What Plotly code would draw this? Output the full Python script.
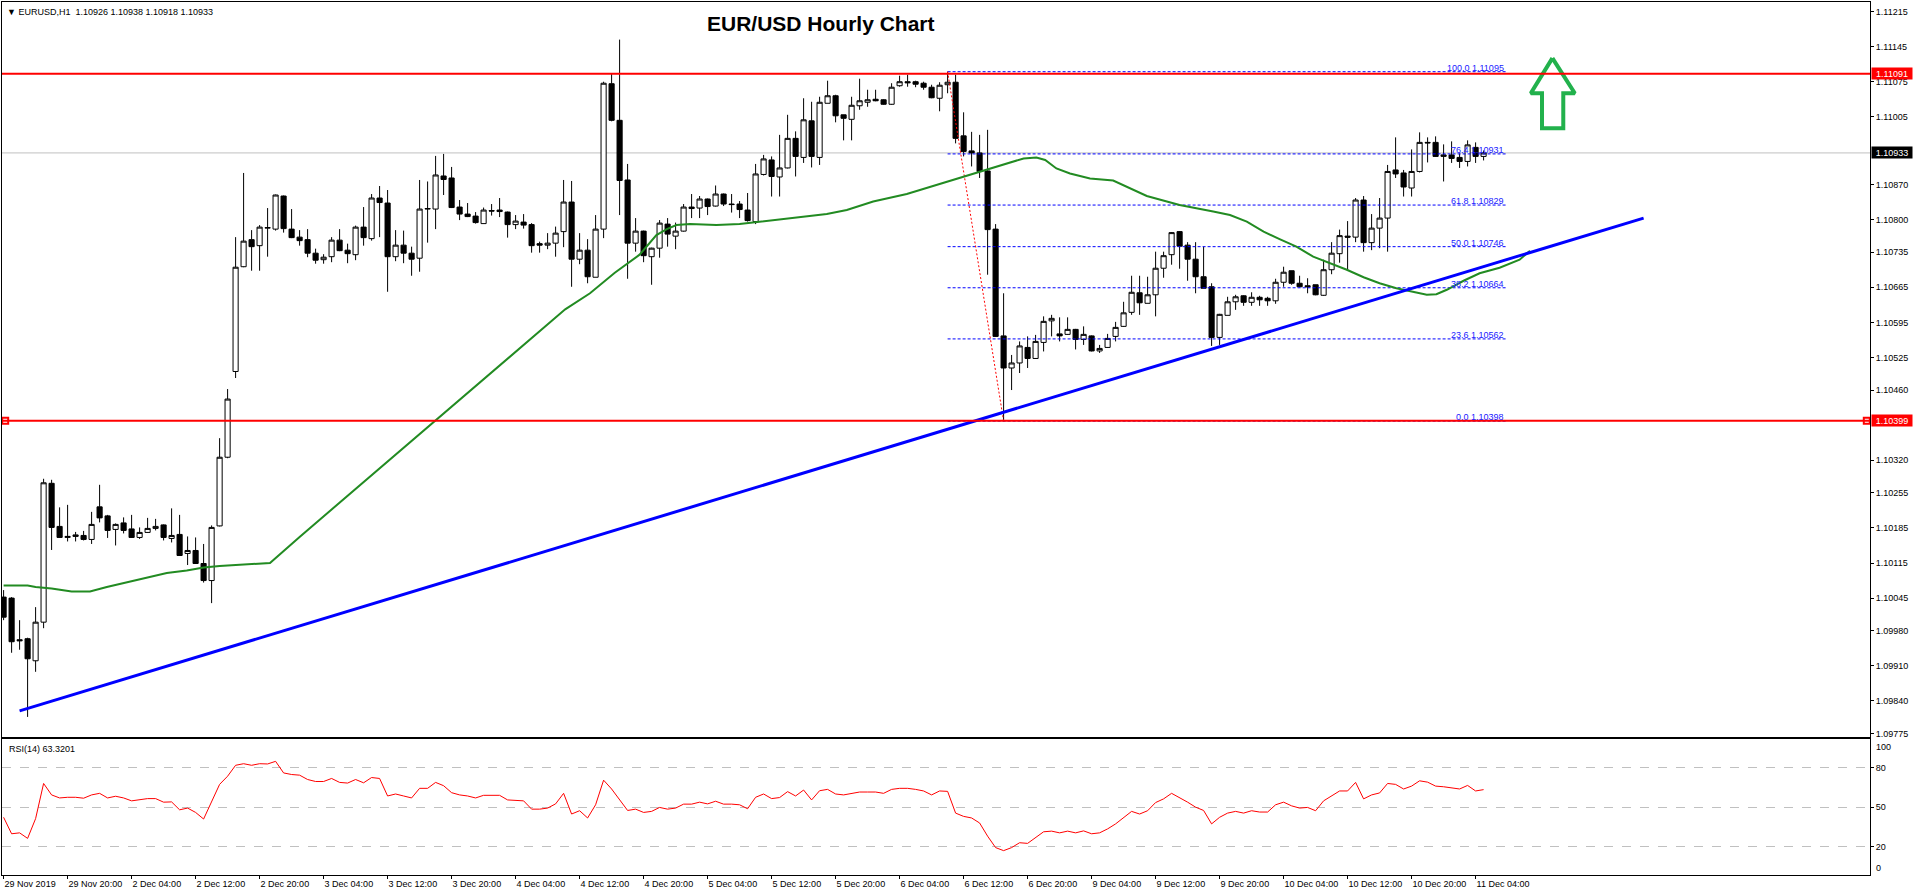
import plotly.graph_objects as go

# H1 bars, index 0 = 29 Nov 2019 12:00 (weekend hours are skipped)
opens = [
    1.10047, 1.10045, 1.09962, 1.09964, 1.09920, 1.09997, 1.10274, 1.10188, 1.10166, 1.10168,
    1.10170, 1.10162, 1.10227, 1.10209, 1.10182, 1.10195, 1.10183, 1.10166, 1.10176, 1.10184,
    1.10191, 1.10164, 1.10172, 1.10134, 1.10140, 1.10114, 1.10080, 1.10189, 1.10326, 1.10497,
    1.10706, 1.10760, 1.10748, 1.10783, 1.10781, 1.10847, 1.10781, 1.10765, 1.10760, 1.10733,
    1.10720, 1.10726, 1.10759, 1.10739, 1.10730, 1.10785, 1.10762, 1.10843, 1.10833, 1.10726,
    1.10749, 1.10733, 1.10723, 1.10821, 1.10821, 1.10887, 1.10883, 1.10825, 1.10811, 1.10807,
    1.10792, 1.10818, 1.10819, 1.10815, 1.10790, 1.10795, 1.10790, 1.10752, 1.10749, 1.10753,
    1.10776, 1.10835, 1.10721, 1.10739, 1.10685, 1.10781, 1.11071, 1.10998, 1.10879, 1.10753,
    1.10777, 1.10726, 1.10743, 1.10791, 1.10767, 1.10777, 1.10825, 1.10823, 1.10841, 1.10827,
    1.10851, 1.10831, 1.10831, 1.10819, 1.10796, 1.10890, 1.10919, 1.10885, 1.10903, 1.10962,
    1.10924, 1.10997, 1.10924, 1.11032, 1.11047, 1.11009, 1.11000, 1.11027, 1.11034, 1.11040,
    1.11039, 1.11030, 1.11067, 1.11075, 1.11075, 1.11072, 1.11064, 1.11042, 1.11069, 1.11074,
    1.10967, 1.10937, 1.10933, 1.10897, 1.10781, 1.10568, 1.10504, 1.10514, 1.10545, 1.10523,
    1.10555, 1.10598, 1.10572, 1.10571, 1.10581, 1.10561, 1.10568, 1.10538, 1.10545, 1.10567,
    1.10587, 1.10615, 1.10654, 1.10633, 1.10650, 1.10703, 1.10730, 1.10776, 1.10749, 1.10721,
    1.10686, 1.10666, 1.10565, 1.10609, 1.10636, 1.10648, 1.10635, 1.10645, 1.10643, 1.10638,
    1.10675, 1.10698, 1.10673, 1.10668, 1.10670, 1.10649, 1.10700, 1.10732, 1.10767, 1.10765,
    1.10839, 1.10754, 1.10783, 1.10803, 1.10899, 1.10893, 1.10863, 1.10896, 1.10954, 1.10954,
    1.10926, 1.10929, 1.10924, 1.10916, 1.10944, 1.10926,
]
highs = [
    1.10061, 1.10047, 1.10001, 1.09966, 1.10027, 1.10283, 1.10281, 1.10226, 1.10231, 1.10177,
    1.10179, 1.10217, 1.10271, 1.10211, 1.10194, 1.10206, 1.10211, 1.10186, 1.10205, 1.10203,
    1.10192, 1.10224, 1.10211, 1.10168, 1.10166, 1.10153, 1.10190, 1.10364, 1.10462, 1.10765,
    1.10893, 1.10779, 1.10789, 1.10823, 1.10850, 1.10848, 1.10821, 1.10779, 1.10781, 1.10742,
    1.10731, 1.10765, 1.10781, 1.10752, 1.10788, 1.10825, 1.10851, 1.10867, 1.10859, 1.10779,
    1.10778, 1.10746, 1.10879, 1.10876, 1.10927, 1.10931, 1.10905, 1.10839, 1.10833, 1.10815,
    1.10824, 1.10831, 1.10843, 1.10816, 1.10809, 1.10811, 1.10793, 1.10756, 1.10773, 1.10786,
    1.10879, 1.10877, 1.10773, 1.10761, 1.10809, 1.11075, 1.11091, 1.11159, 1.10911, 1.10803,
    1.10778, 1.10744, 1.10799, 1.10803, 1.10794, 1.10831, 1.10851, 1.10847, 1.10842, 1.10868,
    1.10852, 1.10851, 1.10837, 1.10853, 1.10911, 1.10929, 1.10926, 1.10969, 1.11009, 1.10976,
    1.11042, 1.11035, 1.11045, 1.11077, 1.11049, 1.11009, 1.11045, 1.11081, 1.11059, 1.11059,
    1.11040, 1.11072, 1.11087, 1.11089, 1.11077, 1.11075, 1.11069, 1.11074, 1.11095, 1.11089,
    1.11014, 1.10975, 1.10969, 1.10979, 1.10791, 1.10653, 1.10530, 1.10557, 1.10567, 1.10570,
    1.10607, 1.10610, 1.10605, 1.10605, 1.10582, 1.10587, 1.10569, 1.10550, 1.10572, 1.10596,
    1.10636, 1.10688, 1.10688, 1.10686, 1.10736, 1.10736, 1.10775, 1.10777, 1.10755, 1.10755,
    1.10746, 1.10673, 1.10612, 1.10646, 1.10650, 1.10649, 1.10655, 1.10648, 1.10646, 1.10682,
    1.10706, 1.10698, 1.10688, 1.10683, 1.10670, 1.10720, 1.10755, 1.10780, 1.10797, 1.10843,
    1.10847, 1.10811, 1.10843, 1.10909, 1.10964, 1.10899, 1.10940, 1.10974, 1.10964, 1.10966,
    1.10950, 1.10956, 1.10932, 1.10958, 1.10954, 1.10938,
]
lows = [
    1.10001, 1.09936, 1.09942, 1.09808, 1.09898, 1.09985, 1.10141, 1.10166, 1.10158, 1.10158,
    1.10160, 1.10153, 1.10196, 1.10165, 1.10150, 1.10174, 1.10165, 1.10163, 1.10175, 1.10180,
    1.10160, 1.10156, 1.10129, 1.10111, 1.10113, 1.10076, 1.10035, 1.10188, 1.10324, 1.10484,
    1.10705, 1.10698, 1.10698, 1.10726, 1.10778, 1.10774, 1.10763, 1.10748, 1.10725, 1.10712,
    1.10712, 1.10715, 1.10737, 1.10713, 1.10719, 1.10748, 1.10758, 1.10765, 1.10656, 1.10717,
    1.10713, 1.10688, 1.10696, 1.10754, 1.10781, 1.10849, 1.10823, 1.10799, 1.10805, 1.10792,
    1.10792, 1.10808, 1.10805, 1.10764, 1.10781, 1.10782, 1.10734, 1.10734, 1.10741, 1.10726,
    1.10745, 1.10666, 1.10711, 1.10673, 1.10685, 1.10763, 1.10996, 1.10809, 1.10682, 1.10736,
    1.10715, 1.10670, 1.10724, 1.10746, 1.10741, 1.10776, 1.10803, 1.10803, 1.10809, 1.10826,
    1.10827, 1.10814, 1.10803, 1.10796, 1.10791, 1.10888, 1.10846, 1.10846, 1.10902, 1.10886,
    1.10913, 1.10904, 1.10909, 1.11032, 1.10994, 1.10958, 1.10958, 1.11019, 1.11025, 1.11036,
    1.11029, 1.11029, 1.11065, 1.11065, 1.11064, 1.11059, 1.11042, 1.11016, 1.11052, 1.10952,
    1.10926, 1.10906, 1.10883, 1.10690, 1.10566, 1.10398, 1.10460, 1.10494, 1.10504, 1.10522,
    1.10537, 1.10567, 1.10557, 1.10570, 1.10541, 1.10550, 1.10537, 1.10534, 1.10544, 1.10557,
    1.10586, 1.10610, 1.10610, 1.10633, 1.10607, 1.10684, 1.10710, 1.10702, 1.10678, 1.10653,
    1.10663, 1.10548, 1.10550, 1.10609, 1.10620, 1.10628, 1.10628, 1.10628, 1.10628, 1.10632,
    1.10666, 1.10670, 1.10665, 1.10653, 1.10649, 1.10648, 1.10691, 1.10714, 1.10698, 1.10755,
    1.10736, 1.10739, 1.10743, 1.10736, 1.10883, 1.10846, 1.10846, 1.10894, 1.10914, 1.10925,
    1.10876, 1.10913, 1.10903, 1.10906, 1.10913, 1.10918,
]
closes = [
    1.10007, 1.09958, 1.09960, 1.09924, 1.09997, 1.10275, 1.10186, 1.10166, 1.10168, 1.10171,
    1.10162, 1.10192, 1.10205, 1.10180, 1.10192, 1.10180, 1.10166, 1.10176, 1.10184, 1.10188,
    1.10166, 1.10170, 1.10130, 1.10140, 1.10114, 1.10080, 1.10186, 1.10326, 1.10442, 1.10705,
    1.10757, 1.10746, 1.10785, 1.10784, 1.10849, 1.10782, 1.10764, 1.10758, 1.10733, 1.10719,
    1.10725, 1.10759, 1.10738, 1.10732, 1.10785, 1.10764, 1.10843, 1.10834, 1.10726, 1.10749,
    1.10733, 1.10721, 1.10821, 1.10822, 1.10889, 1.10880, 1.10824, 1.10811, 1.10806, 1.10794,
    1.10819, 1.10817, 1.10816, 1.10790, 1.10797, 1.10789, 1.10748, 1.10749, 1.10753, 1.10773,
    1.10835, 1.10721, 1.10739, 1.10686, 1.10781, 1.11072, 1.10998, 1.10878, 1.10753, 1.10777,
    1.10728, 1.10743, 1.10793, 1.10771, 1.10777, 1.10825, 1.10822, 1.10841, 1.10826, 1.10851,
    1.10831, 1.10830, 1.10820, 1.10798, 1.10891, 1.10921, 1.10886, 1.10903, 1.10962, 1.10926,
    1.10999, 1.10926, 1.11034, 1.11047, 1.11007, 1.11002, 1.11028, 1.11037, 1.11039, 1.11037,
    1.11030, 1.11064, 1.11075, 1.11073, 1.11070, 1.11064, 1.11043, 1.11068, 1.11074, 1.10962,
    1.10936, 1.10933, 1.10896, 1.10780, 1.10567, 1.10504, 1.10514, 1.10548, 1.10523, 1.10557,
    1.10597, 1.10603, 1.10568, 1.10581, 1.10561, 1.10571, 1.10538, 1.10543, 1.10563, 1.10585,
    1.10614, 1.10655, 1.10634, 1.10650, 1.10703, 1.10728, 1.10774, 1.10747, 1.10721, 1.10686,
    1.10663, 1.10565, 1.10611, 1.10636, 1.10646, 1.10635, 1.10645, 1.10640, 1.10638, 1.10675,
    1.10695, 1.10673, 1.10666, 1.10666, 1.10650, 1.10700, 1.10733, 1.10768, 1.10765, 1.10839,
    1.10754, 1.10783, 1.10803, 1.10896, 1.10891, 1.10865, 1.10896, 1.10954, 1.10953, 1.10926,
    1.10929, 1.10922, 1.10916, 1.10949, 1.10926, 1.10933,
]

rsi = [
    42.3, 29.8, 30.5, 26.3, 41.3, 68.0, 59.3, 57.0, 57.5, 57.5,
    56.8, 59.3, 60.5, 57.0, 58.3, 57.0, 54.8, 55.5, 56.5, 56.5,
    53.8, 54.0, 48.0, 49.3, 46.0, 41.0, 54.3, 67.3, 73.5, 81.8,
    83.0, 81.8, 83.0, 82.8, 84.8, 76.0, 74.8, 74.3, 71.0, 69.5,
    69.5, 71.8, 68.8, 68.3, 71.0, 68.5, 72.5, 71.8, 58.5, 60.0,
    58.5, 57.0, 64.3, 64.3, 68.8, 66.3, 61.0, 59.3, 58.5, 57.0,
    59.0, 59.0, 59.0, 55.5, 55.3, 54.8, 48.5, 48.5, 49.3, 52.5,
    60.5, 44.8, 47.3, 41.8, 51.8, 70.5, 63.8, 55.5, 47.5, 48.5,
    46.0, 46.8, 49.8, 48.5, 49.3, 52.3, 52.3, 53.8, 52.5, 54.5,
    52.3, 52.3, 51.8, 48.8, 57.5, 60.0, 56.5, 57.3, 61.8, 58.5,
    63.0, 55.5, 62.5, 63.5, 60.0, 59.3, 60.5, 61.5, 61.5, 61.5,
    60.5, 63.5, 64.3, 64.3, 63.5, 62.3, 59.3, 62.3, 62.0, 45.5,
    43.0, 41.8, 38.0, 28.0, 19.3, 17.0, 19.3, 23.0, 22.5, 26.8,
    31.3, 31.8, 30.5, 31.8, 30.5, 32.0, 29.8, 30.5, 33.5, 37.3,
    41.8, 46.8, 44.8, 47.3, 53.5, 56.3, 60.5, 57.3, 53.8, 50.0,
    47.5, 37.3, 42.3, 45.5, 46.8, 45.5, 47.3, 46.3, 46.3, 51.8,
    53.8, 51.0, 49.3, 49.8, 47.3, 54.8, 58.5, 62.3, 62.3, 68.8,
    56.3, 59.3, 60.8, 68.0, 67.3, 63.8, 66.0, 70.0, 69.0, 66.0,
    65.5, 64.8, 63.8, 66.5, 62.3, 63.32,
]

# moving average (shifted forward a few bars)
ma_x = [0, 3, 4, 6, 8.5, 10.8, 12.9, 15.4, 17.9, 20.4,
        22.9, 25, 27, 29.1, 32, 33.3, 37, 43.3, 49.5, 55.8,
        62, 67, 70.2, 73.3, 76.4, 79.5, 81.6, 82.9, 84.1, 85.8,
        89.1, 92, 96.2, 100.4, 102.9, 105.4, 108.7, 112.9, 117, 120,
        123.3, 125.8, 127.5, 129.1, 130.2, 131.6, 133.3, 135.8, 138.7, 142.9,
        147, 151.2, 153.3, 155.4, 157.5, 159.5, 161.6, 163.7, 165.8, 167.9,
        170, 172, 174.1, 176.2, 177.9, 179.1, 180.4, 182.5, 184.5, 187,
        189.5, 190.8]
ma_y = [1.10070, 1.10070, 1.10067, 1.10064, 1.10058, 1.10058, 1.10067, 1.10076, 1.10086, 1.10095,
        1.10100, 1.10106, 1.10109, 1.10111, 1.10113, 1.10115, 1.10167, 1.10253, 1.10339, 1.10424,
        1.10510, 1.10578, 1.10621, 1.10653, 1.10694, 1.10730, 1.10769, 1.10781, 1.10789, 1.10791,
        1.10789, 1.10791, 1.10799, 1.10806, 1.10811, 1.10819, 1.10836, 1.10851, 1.10871, 1.10885,
        1.10902, 1.10914, 1.10922, 1.10924, 1.10919, 1.10902, 1.10892, 1.10882, 1.10878, 1.10847,
        1.10829, 1.10816, 1.10809, 1.10796, 1.10776, 1.10761, 1.10746, 1.10726, 1.10713, 1.10700,
        1.10685, 1.10673, 1.10663, 1.10655, 1.10650, 1.10651, 1.10660, 1.10678, 1.10693, 1.10704,
        1.10720, 1.10738]

trend_x = [2, 205]
trend_y = [1.09820, 1.10803]

fib_x = [118, 187.8]
fib_pct = ["100.0", "76.4", "61.8", "50.0", "38.2", "23.6", "0.0"]
fib_price = [1.11095, 1.10931, 1.10829, 1.10746, 1.10664, 1.10562, 1.10398]
fib_swing_x = [118, 125]
fib_swing_y = [1.11095, 1.10398]

resistance = 1.11091
support = 1.10399
bid = 1.10933

# hollow "up" arrow (bar index, price)
arrow_x = [193.6, 190.9, 192.3, 192.3, 194.96, 194.96, 196.4]
arrow_y = [1.11122, 1.11052, 1.11052, 1.10982, 1.10982, 1.11052, 1.11052]

time_ticks = list(range(0, 185, 8))
time_labels = ["29 Nov 2019", "29 Nov 20:00", "2 Dec 04:00", "2 Dec 12:00", "2 Dec 20:00",
               "3 Dec 04:00", "3 Dec 12:00", "3 Dec 20:00", "4 Dec 04:00", "4 Dec 12:00",
               "4 Dec 20:00", "5 Dec 04:00", "5 Dec 12:00", "5 Dec 20:00", "6 Dec 04:00",
               "6 Dec 12:00", "6 Dec 20:00", "9 Dec 04:00", "9 Dec 12:00", "9 Dec 20:00",
               "10 Dec 04:00", "10 Dec 12:00", "10 Dec 20:00", "11 Dec 04:00"]
# the two scale labels sitting under the price tags are left out
price_ticks = [1.11215, 1.11145, 1.11075, 1.11005, 1.10870, 1.10800, 1.10735,
               1.10665, 1.10595, 1.10525, 1.10460, 1.10320, 1.10255, 1.10185,
               1.10115, 1.10045, 1.09980, 1.09910, 1.09840, 1.09775]

FONT = "Liberation Sans, Arial, sans-serif"
X_RANGE = [-0.2, 233.3]

bars = list(range(len(opens)))
fig = go.Figure()

fig.add_trace(go.Candlestick(
    x=bars, open=opens, high=highs, low=lows, close=closes,
    increasing=dict(line=dict(color="black", width=1), fillcolor="white"),
    decreasing=dict(line=dict(color="black", width=1), fillcolor="black"),
    whiskerwidth=0, hoverinfo="skip", xaxis="x", yaxis="y",
))

# fibonacci retracement
for pct, p in zip(fib_pct, fib_price):
    fig.add_trace(go.Scatter(x=fib_x, y=[p, p], mode="lines", xaxis="x", yaxis="y",
                             line=dict(color="#0000ff", width=1, dash="3px,2px"), hoverinfo="skip"))
    fig.add_annotation(x=fib_x[1], y=p, xref="x", yref="y", text=f"{pct} {p:.5f}",
                       showarrow=False, xanchor="right", yanchor="bottom", yshift=-3,
                       font=dict(family=FONT, size=9, color="#2020ff"))
fig.add_trace(go.Scatter(x=fib_swing_x, y=fib_swing_y, mode="lines", xaxis="x", yaxis="y",
                         line=dict(color="#ff0000", width=1, dash="2px,2px"), hoverinfo="skip"))

fig.add_trace(go.Scatter(x=ma_x, y=ma_y, mode="lines", xaxis="x", yaxis="y",
                         line=dict(color="#228b22", width=2), hoverinfo="skip"))
fig.add_trace(go.Scatter(x=trend_x, y=trend_y, mode="lines", xaxis="x", yaxis="y",
                         line=dict(color="#0000ff", width=3), hoverinfo="skip"))

fig.add_trace(go.Scatter(x=arrow_x + arrow_x[:1], y=arrow_y + arrow_y[:1], mode="lines",
                         xaxis="x", yaxis="y", line=dict(color="#22b14c", width=4),
                         hoverinfo="skip"))

# horizontal levels
fig.add_shape(type="line", xref="x domain", yref="y", x0=0, x1=1, y0=bid, y1=bid,
              line=dict(color="#c0c0c0", width=1), layer="below")
for lvl in (resistance, support):
    fig.add_shape(type="line", xref="x domain", yref="y", x0=0, x1=1, y0=lvl, y1=lvl,
                  line=dict(color="#ff0000", width=2))
fig.add_trace(go.Scatter(x=[X_RANGE[0] + 0.4, X_RANGE[1] - 0.4], y=[support, support],
                         mode="markers", xaxis="x", yaxis="y", hoverinfo="skip", cliponaxis=False,
                         marker=dict(symbol="square", size=6, color="white",
                                     line=dict(color="#ff0000", width=2))))

# RSI
fig.add_trace(go.Scatter(x=list(range(len(rsi))), y=rsi, mode="lines", xaxis="x2", yaxis="y2",
                         line=dict(color="#ff0000", width=1), hoverinfo="skip"))

# price tags on the axis
for val, col in ((resistance, "#ff0000"), (bid, "#000000"), (support, "#ff0000")):
    fig.add_annotation(x=1, xref="paper", y=val, yref="y", text=f"{val:.5f}", showarrow=False,
                       xanchor="left", yanchor="middle", xshift=1, bgcolor=col, width=40,
                       height=11, borderpad=0, font=dict(family=FONT, size=9, color="white"))

fig.add_annotation(x=0, xref="paper", y=0.9885, yref="paper", xanchor="left", yanchor="middle",
                   xshift=3, showarrow=False,
                   text="\u25bc EURUSD,H1\u00a0\u00a01.10926 1.10938 1.10918 1.10933",
                   font=dict(family=FONT, size=9, color="black"))
fig.add_annotation(x=0.4384, xref="paper", y=0.9748, yref="paper", xanchor="center",
                   yanchor="middle", showarrow=False, text="<b>EUR/USD Hourly Chart</b>",
                   font=dict(family=FONT, size=21, color="black"))
fig.add_annotation(x=0, xref="paper", y=0.1443, yref="paper", xanchor="left", yanchor="middle",
                   xshift=5, showarrow=False, text="RSI(14) 63.3201",
                   font=dict(family=FONT, size=9, color="black"))
for txt, ypos in (("100", 0.147), ("0", 0.0077)):
    fig.add_annotation(x=1, xref="paper", y=ypos, yref="paper", xanchor="left", yanchor="middle",
                       xshift=4, showarrow=False, text=txt,
                       font=dict(family=FONT, size=9, color="black"))

axis_common = dict(showgrid=False, zeroline=False, showline=True, linecolor="black",
                   linewidth=1, mirror=True, fixedrange=True)
fig.update_layout(
    width=1916, height=896,
    margin=dict(l=2, r=46, t=2, b=21),
    paper_bgcolor="white", plot_bgcolor="white",
    font=dict(family=FONT, size=9, color="black"),
    showlegend=False, hovermode=False,
    boxgap=0.2, boxgroupgap=0.2,
    xaxis=dict(domain=[0, 1], range=X_RANGE, anchor="y", showticklabels=False, ticks="",
               rangeslider=dict(visible=False), **axis_common),
    yaxis=dict(domain=[0.1581, 1], range=[1.09768, 1.11234], side="right", anchor="x",
               tickvals=price_ticks, ticktext=[f"{v:.5f}" for v in price_ticks],
               ticks="outside", ticklen=3, tickcolor="black", **axis_common),
    xaxis2=dict(domain=[0, 1], range=X_RANGE, anchor="y2", tickvals=time_ticks,
                ticktext=time_labels, ticks="outside", ticklen=3, tickcolor="black",
                ticklabelposition="outside right", **axis_common),
    yaxis2=dict(domain=[0, 0.1554], range=[-1.5, 101.5], side="right", anchor="x2",
                tickvals=[80, 50, 20], ticks="outside", ticklen=3, tickcolor="black",
                showgrid=True, gridcolor="#c0c0c0", griddash="dash", gridwidth=1,
                zeroline=False, showline=True, linecolor="black", linewidth=1, mirror=True,
                fixedrange=True),
)

# the page body has a default 8px margin; drop it so the figure fills the window
fig.write_html("out.html", config={"displayModeBar": False},
               post_script="document.body.style.margin='0';")
